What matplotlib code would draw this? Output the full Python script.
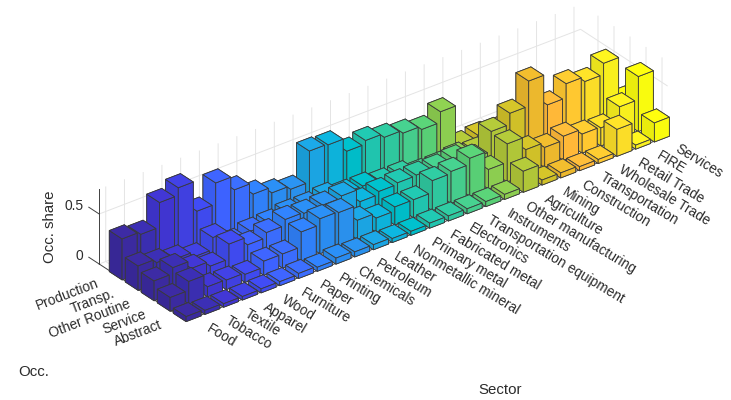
import numpy
import matplotlib
matplotlib.use('Agg')
import matplotlib.pyplot as plt
from matplotlib.colors import to_rgb
from mpl_toolkits.mplot3d import proj3d

plt.rcParams['font.family'] = ['Liberation Sans', 'DejaVu Sans']

sectors = ['Food', 'Tobacco', 'Textile', 'Apparel', 'Wood', 'Furniture', 'Paper', 'Printing',
           'Chemicals', 'Petroleum', 'Leather', 'Nonmetallic mineral', 'Primary metal',
           'Fabricated metal', 'Electronics', 'Transportation equipment', 'Instruments',
           'Other manufacturing', 'Agriculture', 'Mining', 'Construction', 'Transportation',
           'Wholesale Trade', 'Retail Trade', 'FIRE', 'Services']
occupations = ['Abstract', 'Service', 'Other Routine', 'Transp.', 'Production']

abstract = [.05, .04, .035, .035, .04, .04, .05, .04, .06, .05, .05, .04, .04, .05, .05, .05,
            .05, .05, .21, .05, .05, .04, .04, .27, .04, .19]
service = [.136, .225, .10, .095, .08, .14, .14, .29, .35, .34, .19, .14, .18, .18, .30, .32,
           .38, .195, .38, .25, .20, .24, .19, .18, .32, .55]
other_routine = [.198, .26, .18, .13, .28, .20, .25, .31, .30, .31, .33, .20, .23, .245, .25, .25,
                 .27, .20, .40, .51, .76, .45, .59, .54, .65, .21]
transp = [.243, .205, .17, .12, .24, .12, .16, .17, .20, .20, .22, .18, .18, .15, .15, .10,
          .10, .12, .10, .10, .12, .15, .10, .10, .10, .10]
production = [.41, .384, .63, .706, .40, .61, .47, .355, .296, .26, .57, .56, .425, .46, .42, .39,
              .355, .46, .06, .08, .06, .08, .08, .08, .08, .08]
shares = [abstract, service, other_routine, transp, production]

sector_colors = ['#3b2a9f', '#3a2eb0', '#4035d0', '#4040e0', '#3f4aee', '#3d62ff', '#3a6cfc',
                 '#3080f8', '#2a8cf0', '#2a90ec', '#1ba4e2', '#0db2da', '#00bcc8', '#20c4ae',
                 '#2fc79e', '#45cd8c', '#58cf75', '#8ccd50', '#b0c638', '#d0c028', '#ecb82d',
                 '#ffb838', '#ffc830', '#fbdd28', '#f8ef1e', '#f9fb0e']

width = 0.8
text_color = '#2b2b2b'
line_color = '#404040'
grid_color = '#e4e4e4'
font_size = 9.9
xlim = (0.65, 26.35)
ylim = (0.65, 6.09)

fig = plt.figure(figsize=(7.31, 4.0), dpi=100)
ax = fig.add_axes([0.0953, -0.1907, 0.8358, 1.5275], projection='3d', proj_type='ortho')
ax.view_init(elev=30, azim=-127.5)
ax.set_box_aspect((606.5, 143, 86.6))
ax.computed_zorder = False

ax.set_xlim(*xlim, view_margin=0)
ax.set_ylim(*ylim, view_margin=0)
ax.set_zlim(0, 0.75, view_margin=0)

# back to front, the camera sits on the low x, low y side
order = 10
for i in range(len(sectors) - 1, -1, -1):
    base = numpy.array(to_rgb(sector_colors[i]))
    top = numpy.clip(base * 1.03, 0, 1)
    left = base * 0.94
    faces = [base, top, base, base, left, base]
    for j in range(len(occupations) - 1, -1, -1):
        ax.bar3d(i + 1 - width / 2, j + 1 - width / 2, 0, width, width, shares[j][i],
                 color=faces, shade=False, edgecolor='#3a3a3a', linewidth=0.6, zorder=order)
        order += 1

ax.set_xticks(numpy.arange(1, len(sectors) + 1))
ax.set_yticks(numpy.arange(1, len(occupations) + 1))
ax.set_zticks([0, 0.5])
ax.tick_params(colors=line_color, label1On=False)

for axis in [ax.xaxis, ax.yaxis, ax.zaxis]:
    axis.set_pane_color((1, 1, 1, 0))
    axis.pane.set_edgecolor((1, 1, 1, 0))
    axis.line.set_color(line_color)
    axis.line.set_linewidth(0.7)
    axis._axinfo['grid']['color'] = grid_color
    axis._axinfo['grid']['linewidth'] = 0.7
    axis._axinfo['tick']['inward_factor'] = 0.0
    axis._axinfo['tick']['linewidth'] = {True: 0.7, False: 0.7}
    axis._axinfo['tick']['color'] = line_color
ax.xaxis._axinfo['tick']['outward_factor'] = 1.55
ax.yaxis._axinfo['tick']['outward_factor'] = 0.26
ax.zaxis._axinfo['tick']['outward_factor'] = 0.0


def label(x, y, z, name, **kwargs):
    # place the text where the 3d point lands on the 2d axes
    px, py, _ = proj3d.proj_transform(x, y, z, ax.get_proj())
    ax.text2D(px, py, name, transform=ax.transData, va='center', rotation_mode='anchor',
              fontsize=font_size, color=text_color, zorder=500, **kwargs)


# labels sit just past the tick ends
for i, name in enumerate(sectors):
    label(i + 1, ylim[0] - 0.95, 0.01, name, rotation=-31, ha='left')
for j, name in enumerate(occupations):
    label(xlim[0] - 1.0, j + 1, 0, name, rotation=21, ha='right')
for value, name in [(0, '0'), (0.5, '0.5')]:
    ax.plot([xlim[0], xlim[0]], [ylim[1], ylim[1] + 0.65], [value, value], color=line_color,
            linewidth=0.7, zorder=500)
    label(xlim[0], ylim[1] + 1.0, value - 0.025, name, ha='right')

fig.text(18 / 731, 1 - 372 / 400, 'Occ.', fontsize=10.8, color=text_color, va='center')
fig.text(478 / 731, 1 - 390 / 400, 'Sector', fontsize=10.8, color=text_color, va='center')
fig.text(49.5 / 731, 1 - 227 / 400, 'Occ. share', fontsize=10.8, color=text_color, rotation=90,
         ha='center', va='center')

plt.savefig('out.png', dpi=100)
